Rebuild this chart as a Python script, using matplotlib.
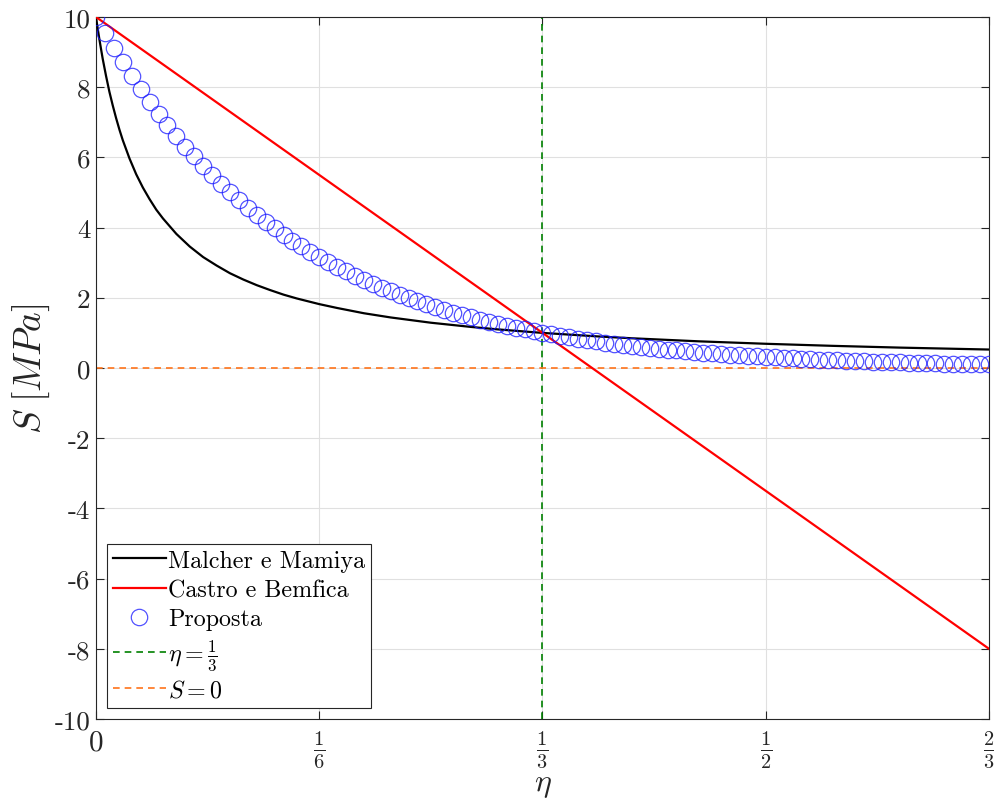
import numpy as np
import matplotlib
matplotlib.use("Agg")
import matplotlib.pyplot as plt

plt.rcParams["font.family"] = "serif"
plt.rcParams["font.serif"] = ["cmr10"]
plt.rcParams["mathtext.fontset"] = "cm"
plt.rcParams["axes.formatter.use_mathtext"] = True

# Malcher e Mamiya
eta_mm = [0.0, 0.001, 0.0025, 0.005, 0.0075, 0.01, 0.0125, 0.015, 0.0175,
          0.02, 0.025, 0.03, 0.035, 0.04, 0.045, 0.05, 0.06, 0.07, 0.08,
          0.09, 0.10, 0.11, 0.12, 0.13, 0.14, 0.15, 1/6, 0.18, 0.20, 0.22,
          0.25, 0.28, 0.30, 1/3, 0.375, 0.40, 0.45, 0.50, 0.55, 0.60, 2/3]
s_mm = [10.0, 9.74, 9.37, 8.81, 8.32, 7.87, 7.48, 7.12, 6.79,
        6.49, 5.97, 5.52, 5.14, 4.81, 4.51, 4.26, 3.82, 3.46, 3.16,
        2.92, 2.70, 2.52, 2.36, 2.22, 2.09, 1.98, 1.82, 1.71, 1.56, 1.44,
        1.29, 1.17, 1.10, 1.00, 0.899, 0.847, 0.760, 0.690, 0.631, 0.581, 0.526]

# Castro e Bemfica
eta_cb = [0.0, 2/3]
s_cb = [10.0, -8.0]

# Proposta (101 samples over [0, 2/3])
s_prop = [10.0, 9.55, 9.12, 8.71, 8.32, 7.94, 7.59, 7.24, 6.92, 6.61,
          6.31, 6.03, 5.75, 5.50, 5.25, 5.01, 4.79, 4.57, 4.37, 4.17,
          3.98, 3.80, 3.63, 3.47, 3.31, 3.16, 3.02, 2.88, 2.75, 2.63,
          2.51, 2.40, 2.29, 2.19, 2.09, 2.00, 1.91, 1.82, 1.74, 1.66,
          1.58, 1.51, 1.45, 1.38, 1.32, 1.26, 1.20, 1.15, 1.10, 1.05,
          1.00, 0.955, 0.912, 0.871, 0.832, 0.794, 0.759, 0.724, 0.692, 0.661,
          0.631, 0.603, 0.575, 0.550, 0.525, 0.501, 0.479, 0.457, 0.437, 0.417,
          0.398, 0.380, 0.363, 0.347, 0.331, 0.316, 0.302, 0.288, 0.275, 0.263,
          0.251, 0.240, 0.229, 0.219, 0.209, 0.200, 0.191, 0.182, 0.174, 0.166,
          0.158, 0.151, 0.145, 0.138, 0.132, 0.126, 0.120, 0.115, 0.110, 0.105,
          0.100]
eta_prop = np.linspace(0, 2/3, len(s_prop))

x_ticks = [0, 1/6, 1/3, 1/2, 2/3]
x_ticklabels = [r"$0$", r"$\frac{1}{6}$", r"$\frac{1}{3}$", r"$\frac{1}{2}$", r"$\frac{2}{3}$"]
y_ticks = list(range(-10, 11, 2))
y_ticklabels = ["-10", "-8", "-6", "-4", "-2", "0", "2", "4", "6", "8", "10"]

dark = (0.15, 0.15, 0.15)

fig = plt.figure(figsize=(9.95, 8.03), dpi=100)
ax = fig.add_axes([96/995, 83/803, 893/995, 702/803])

ax.plot(eta_mm, s_mm, color="black", lw=1.6, label="Malcher e Mamiya", zorder=3)
ax.plot(eta_cb, s_cb, color="red", lw=1.6, label="Castro e Bemfica", zorder=3)
ax.plot(eta_prop, s_prop, ls="none", marker="o", ms=11.8, mfc="none",
        mec=(0.1, 0.1, 1.0), mew=0.9, alpha=0.75, label="Proposta", zorder=4)
ax.axvline(1/3, color=(0.0, 0.5, 0.0), ls=(0, (4, 3)), lw=1.2,
           label=r"$\eta = \frac{1}{3}$", zorder=2)
ax.axhline(0, color=(1.0, 0.45, 0.1), ls=(0, (4, 3)), lw=1.2,
           label=r"$S = 0$", zorder=2)

ax.set_xlim(0, 2/3)
ax.set_ylim(-10, 10)
ax.set_xticks(x_ticks)
ax.set_xticklabels(x_ticklabels)
for i, lbl in enumerate(ax.get_xticklabels()):
    lbl.set_fontsize(21 if i == 0 else 21)
ax.set_yticks(y_ticks)
ax.set_yticklabels(y_ticklabels, fontsize=19.5)
ax.tick_params(direction="in", top=True, right=True, length=6,
               color=dark, labelcolor=dark)
ax.tick_params(axis="x", pad=7)
ax.tick_params(axis="y", pad=4)
ax.grid(True, color=(0.88, 0.88, 0.88), lw=0.8)
ax.set_axisbelow(True)
for sp in ax.spines.values():
    sp.set_color(dark)
    sp.set_linewidth(0.8)

ax.set_xlabel(r"$\eta$", fontsize=23, color=dark)
ax.xaxis.set_label_coords(0.5, -0.075)
ax.set_ylabel(r"$S\;[MPa]$", fontsize=27, color=dark, labelpad=2)

leg = ax.legend(loc="lower left", bbox_to_anchor=(0.012, 0.016), fontsize=17.3,
                frameon=True, fancybox=False, edgecolor=dark,
                framealpha=1, handlelength=2.2, handletextpad=0.1,
                borderpad=0.25, labelspacing=0.3, borderaxespad=0)
leg.get_frame().set_linewidth(0.8)

fig.savefig("out.png", dpi=100)
